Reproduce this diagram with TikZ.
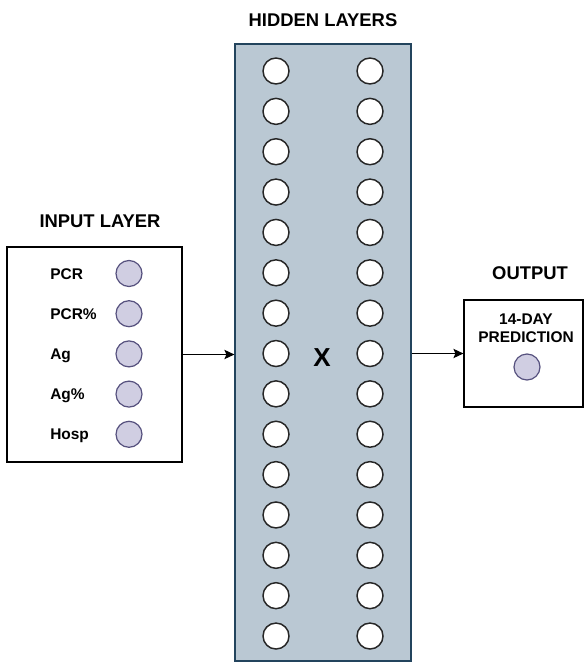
\documentclass[tikz,border=0pt]{standalone}
\usepackage{fontspec}
\setmainfont{Liberation Sans}
\usetikzlibrary{arrows.meta}
\definecolor{hidfill}{HTML}{BAC8D3}
\definecolor{hidline}{HTML}{23445D}
\definecolor{infill}{HTML}{D0CEE2}
\definecolor{inline}{HTML}{56517E}
\tikzset{
  box/.style={draw=black, line width=0.9pt, fill=white, inner sep=0pt},
  hidbox/.style={draw=hidline, line width=0.9pt, fill=hidfill, inner sep=0pt},
  hneuron/.style={circle, draw=black!85, fill=white, line width=1.1pt, minimum size=26*0.75pt, inner sep=0pt},
  ineuron/.style={circle, draw=inline, fill=infill, line width=0.9pt, minimum size=26*0.75pt, inner sep=0pt},
  title/.style={font=\bfseries\fontsize{13.8pt}{15pt}\selectfont, inner sep=0pt},
  lab/.style={font=\bfseries\fontsize{11.6pt}{13pt}\selectfont, inner sep=0pt},
  arr/.style={-{Stealth[length=7.5pt,width=7pt,inset=1.5pt]}, line width=0.9pt}
}
\begin{document}
\begin{tikzpicture}[x=0.75pt,y=-0.75pt]
\useasboundingbox (0,0) rectangle (584,663);
% boxes
\node[hidbox, minimum width=176*0.75pt, minimum height=617*0.75pt] (hid) at (323,352.5) {};
\node[box, minimum width=175*0.75pt, minimum height=215*0.75pt] (inp) at (94.5,354.5) {};
\node[box, minimum width=119*0.75pt, minimum height=107*0.75pt] (out) at (523.5,353.5) {};
% titles
\node[title] (thid) at (323,19.7) {HIDDEN LAYERS};
\node[title] (tinp) at (100,221) {INPUT LAYER};
\node[title] (tout) at (530,273) {OUTPUT};
% hidden neurons
\foreach \i in {1,...,15}{
  \pgfmathsetmacro{\yy}{71+(\i-1)*40.36}
  \node[hneuron] (hl\i) at (276,\yy) {};
  \node[hneuron] (hr\i) at (370,\yy) {};
}
\node[font=\bfseries\fontsize{19.5pt}{21pt}\selectfont, inner sep=0pt] (xx) at (322,358) {X};
% input neurons
\foreach \i/\t in {1/PCR,2/PCR\%,3/Ag,4/Ag\%,5/Hosp}{
  \pgfmathsetmacro{\yy}{273.5+(\i-1)*40.2}
  \node[ineuron] (in\i) at (129,\yy) {};
  \node[lab, anchor=base west] (il\i) at (50,\yy+5.5) {\t};
}
% output
\node[lab, anchor=base] (o1) at (526,324.5) {14-DAY};
\node[lab, anchor=base] (o2) at (526,342.5) {PREDICTION};
\node[ineuron] (on) at (527,367) {};
% arrows
\draw[arr] (inp.east) -- (inp.east -| hid.west);
\draw[arr] (hid.east |- out.west) -- (out.west);
\end{tikzpicture}
\end{document}
